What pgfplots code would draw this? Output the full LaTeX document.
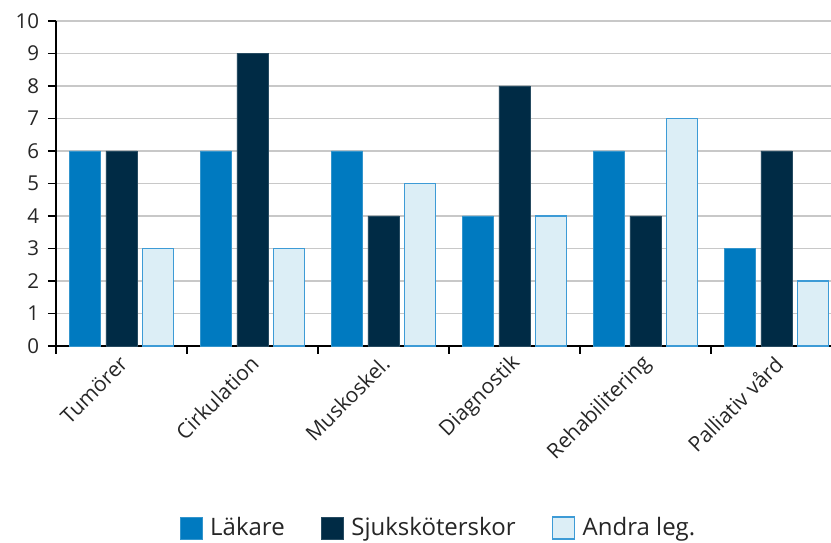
\documentclass[border=0pt]{standalone}
\usepackage{pgfplots}
\pgfplotsset{compat=1.18}
\usepackage{fontspec}
\setmainfont{Open Sans}
\definecolor{lak}{HTML}{007AC0}
\definecolor{sjuk}{HTML}{002B45}
\definecolor{andra}{HTML}{DCEEF6}
\definecolor{andraEdge}{HTML}{3D9BD6}
\definecolor{gridgray}{HTML}{C8C8C8}
\definecolor{txt}{HTML}{262626}

\begin{document}
\fontsize{20}{24}\selectfont
\begin{tikzpicture}
\useasboundingbox (-56pt,-197pt) rectangle (775pt,346pt);
\begin{axis}[
    scale only axis,
    width=775pt, height=325pt,
    xmin=-0.5, xmax=5.416,
    ymin=0, ymax=10,
    ytick={0,1,...,10},
    xtick={0,1,2,3,4,5},
    xticklabels={Tumörer,Cirkulation,Muskoskel.,Diagnostik,Rehabilitering,Palliativ vård},
    minor xtick={-0.5,0.5,1.5,2.5,3.5,4.5},
    major x tick style={draw=none},
    minor x tick style={black, line width=1.5pt},
    minor tick length=8pt,
    major tick length=8pt,
    y tick style={black, line width=1.5pt},
    tick align=outside,
    axis x line*=bottom,
    axis y line*=left,
    axis line style={black, line width=1.8pt, -},
    ymajorgrids,
    grid style={gridgray, line width=1.4pt},
    xticklabel style={rotate=45, anchor=east, xshift=4pt, yshift=-6pt,
        font=\fontsize{21}{25}\selectfont},
    yticklabel style={xshift=-2pt, font=\fontsize{20.5}{24}\selectfont},
    /pgf/number format/assume math mode=true,
    ticklabel style={text=txt},
    clip=false,
    legend style={at={(0.4935,0)}, anchor=center, yshift=-182pt, draw=none,
        legend columns=-1, font=\fontsize{24}{28}\selectfont, text=txt,
        /tikz/every odd column/.append style={column sep=6pt},
        /tikz/every even column/.append style={column sep=34pt}},
    legend image code/.code={\draw[#1] (0pt,-11pt) rectangle (22pt,11pt);},
]
\addplot[ybar, bar width=0.237, bar shift=-0.28, fill=lak, draw=lak!80!white, line width=0.6pt]
    coordinates {(0,6) (1,6) (2,6) (3,4) (4,6) (5,3)};
\addlegendentry{Läkare}
\addplot[ybar, bar width=0.237, bar shift=0, fill=sjuk, draw=sjuk!85!white, line width=0.6pt]
    coordinates {(0,6) (1,9) (2,4) (3,8) (4,4) (5,6)};
\addlegendentry{Sjuksköterskor}
\addplot[ybar, bar width=0.237, bar shift=0.28, fill=andra, draw=andraEdge, line width=1.1pt]
    coordinates {(0,3) (1,3) (2,5) (3,4) (4,7) (5,2)};
\addlegendentry{Andra leg.}
\end{axis}
\end{tikzpicture}
\end{document}
